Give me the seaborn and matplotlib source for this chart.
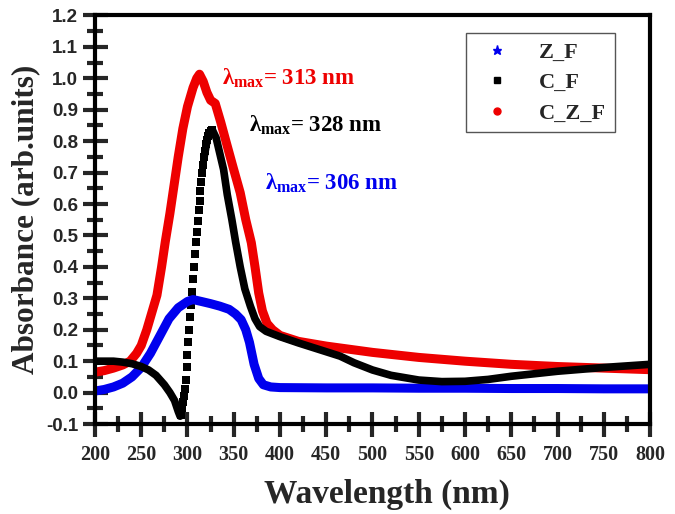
import numpy as np
import pandas as pd
import seaborn as sns
import matplotlib.pyplot as plt
from matplotlib.lines import Line2D
from matplotlib.ticker import MultipleLocator

# Z_F (blue stars)
wl_zf = [200, 210, 220, 230, 240, 250, 260, 270, 280, 290, 300, 306, 315, 325, 335, 345,
         352, 358, 363, 367, 372, 377, 382, 390, 400, 450, 500, 550, 600, 650, 700, 750, 800]
abs_zf = [0.005, 0.01, 0.018, 0.03, 0.05, 0.08, 0.125, 0.18, 0.235, 0.27, 0.29, 0.296, 0.29,
          0.283, 0.275, 0.265, 0.25, 0.232, 0.2, 0.16, 0.09, 0.045, 0.025, 0.018, 0.016,
          0.015, 0.015, 0.014, 0.014, 0.013, 0.013, 0.012, 0.012]

# C_F (black squares) - smooth parts
wl_cf_a = [200, 210, 220, 230, 240, 250, 258, 266, 275, 281, 286, 290, 292, 293]
abs_cf_a = [0.1, 0.1, 0.1, 0.097, 0.092, 0.083, 0.072, 0.055, 0.025, 0.0, -0.025, -0.06,
            -0.075, -0.07]
# C_F steep rise (separate square markers)
wl_cf_rise = [293, 294, 295, 296, 297, 298, 299, 300, 301, 302, 303, 304, 305, 306, 307,
              308, 309, 310, 311, 312, 313, 314, 315, 316, 317, 318, 319, 320, 321, 322,
              323, 325, 327]
abs_cf_rise = [-0.07, -0.05, -0.03, -0.01, 0.01, 0.04, 0.08, 0.12, 0.16, 0.2, 0.24, 0.28,
               0.32, 0.36, 0.4, 0.44, 0.48, 0.51, 0.545, 0.58, 0.61, 0.64, 0.67, 0.7, 0.725,
               0.75, 0.77, 0.79, 0.805, 0.815, 0.825, 0.832, 0.835]
wl_cf_b = [318, 322, 327, 331, 335, 339, 343, 348, 352, 357, 362, 368, 373, 378, 385, 392,
           400, 420, 450, 465, 480, 500, 520, 550, 575, 600, 625, 650, 675, 700, 750, 800]
abs_cf_b = [0.75, 0.815, 0.835, 0.81, 0.76, 0.71, 0.63, 0.55, 0.48, 0.4, 0.33, 0.275, 0.235,
            0.21, 0.195, 0.187, 0.178, 0.158, 0.13, 0.116, 0.095, 0.072, 0.055, 0.04, 0.035,
            0.036, 0.042, 0.052, 0.06, 0.068, 0.08, 0.09]

# C_Z_F (red circles)
wl_czf = [200, 210, 220, 230, 238, 245, 250, 256, 262, 267, 272, 276, 281, 285, 290, 295,
          300, 306, 310, 313, 317, 321, 325, 330, 336, 342, 349, 357, 363, 369, 373, 377,
          381, 386, 392, 400, 420, 450, 500, 550, 600, 650, 700, 750, 800]
abs_czf = [0.065, 0.07, 0.078, 0.088, 0.1, 0.125, 0.15, 0.2, 0.26, 0.31, 0.4, 0.48, 0.57,
           0.65, 0.75, 0.84, 0.91, 0.97, 1.0, 1.013, 0.99, 0.955, 0.93, 0.92, 0.86, 0.795,
           0.72, 0.636, 0.55, 0.477, 0.4, 0.317, 0.26, 0.22, 0.2, 0.182, 0.163, 0.148, 0.128,
           0.112, 0.1, 0.09, 0.083, 0.078, 0.073]

sns.set_style('ticks')
plt.rcParams['mathtext.fontset'] = 'custom'
plt.rcParams['mathtext.rm'] = 'Liberation Serif:bold'
plt.rcParams['mathtext.it'] = 'Liberation Serif:bold'
plt.rcParams['mathtext.bf'] = 'Liberation Serif:bold'

fig = plt.figure(figsize=(6.75, 5.14), dpi=100)
ax = fig.add_axes([0.1407, 0.175, 0.8223, 0.795])

line_kw = dict(solid_joinstyle='round', solid_capstyle='round')
sns.lineplot(x=wl_zf, y=abs_zf, color='#0000ee', linewidth=6.5, ax=ax, **line_kw)
sns.lineplot(x=wl_czf, y=abs_czf, color='#ee0000', linewidth=6.5, ax=ax, **line_kw)
sns.lineplot(x=wl_cf_a, y=abs_cf_a, color='black', linewidth=5.5, ax=ax, **line_kw)
sns.lineplot(x=wl_cf_b, y=abs_cf_b, color='black', linewidth=5.5, ax=ax, **line_kw)
sns.scatterplot(x=wl_cf_rise, y=abs_cf_rise, color='black', marker='s', s=30,
                linewidth=0, ax=ax)

ax.set_xlim(200, 800)
ax.set_ylim(-0.1, 1.2)
ax.xaxis.set_major_locator(MultipleLocator(50))
ax.xaxis.set_minor_locator(MultipleLocator(25))
ax.yaxis.set_major_locator(MultipleLocator(0.1))
ax.yaxis.set_minor_locator(MultipleLocator(0.05))
ax.tick_params(which='major', direction='inout', length=18, width=3, top=False, right=False)
ax.tick_params(which='minor', direction='inout', length=12, width=3, top=False, right=False)
ax.tick_params(axis='y', which='major', pad=3)
ax.tick_params(axis='x', which='major', pad=6)
for s in ax.spines.values():
    s.set_linewidth(3)
    s.set_color('black')

ax.set_yticks(np.round(np.arange(-0.1, 1.21, 0.1), 1))
ax.set_yticklabels(['%.1f' % v for v in np.arange(-0.1, 1.21, 0.1)],
                   fontfamily='Liberation Sans', fontweight='bold', fontsize=13.5)
ax.set_xticks(range(200, 801, 50))
ax.set_xticklabels([str(v) for v in range(200, 801, 50)],
                   fontfamily='Liberation Serif', fontweight='bold', fontsize=14.5)

ax.set_xlabel('Wavelength (nm)', fontfamily='Liberation Serif', fontweight='bold',
              fontsize=24, labelpad=10)
ax.xaxis.label.set_x(0.526)
ax.set_ylabel('Absorbance (arb.units)', fontfamily='Liberation Serif', fontweight='bold',
              fontsize=22.5, labelpad=4)

ax.text(337, 1.0, r'$\lambda_{\rm max}$= 313 nm', color='#ee0000', fontsize=16.5,
        fontfamily='Liberation Serif', fontweight='bold', va='center')
ax.text(367, 0.85, r'$\lambda_{\rm max}$= 328 nm', color='black', fontsize=16.5,
        fontfamily='Liberation Serif', fontweight='bold', va='center')
ax.text(384, 0.665, r'$\lambda_{\rm max}$= 306 nm', color='#0000ee', fontsize=16.5,
        fontfamily='Liberation Serif', fontweight='bold', va='center')

handles = [Line2D([], [], color='#0000ee', marker='*', linestyle='none', markersize=6.5),
           Line2D([], [], color='black', marker='s', linestyle='none', markersize=5),
           Line2D([], [], color='#ee0000', marker='o', linestyle='none', markersize=5)]
leg = ax.legend(handles, ['Z_F', 'C_F', 'C_Z_F'], loc='upper right',
                bbox_to_anchor=(0.937, 0.957), borderaxespad=0, fancybox=False,
                edgecolor='#555555', framealpha=1, borderpad=0.4, labelspacing=0.45,
                handlelength=2.0, handletextpad=0.9,
                prop={'family': 'Liberation Serif', 'weight': 'bold', 'size': 16})
leg.get_frame().set_linewidth(1)

fig.savefig('out.png', dpi=100)
